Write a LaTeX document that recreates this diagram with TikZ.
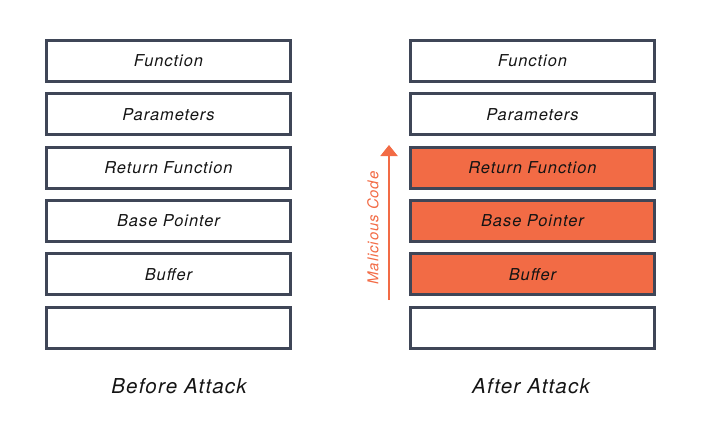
\documentclass[tikz,border=0pt]{standalone}
\usepackage{fontspec}
\setmainfont{TeX Gyre Heros}[LetterSpace=6]
\usetikzlibrary{arrows.meta,positioning}
\definecolor{frame}{HTML}{3F4657}
\definecolor{attack}{HTML}{F26B45}
\definecolor{ink}{HTML}{141414}

\begin{document}
\begin{tikzpicture}[x=0.75pt, y=-0.75pt,
  slot/.style={draw=frame, line width=2.25pt, minimum width=183pt, minimum height=30.75pt, inner sep=0pt, font=\itshape\fontsize{12.3}{14}\selectfont, text=ink},
  hit/.style={slot, fill=attack},
  caption/.style={font=\itshape\fontsize{15.4}{18}\selectfont, text=ink},
  arr/.style={-{Triangle[length=8.25pt, width=12.75pt]}, line width=1.5pt, draw=attack, fill=attack}
]
\useasboundingbox (0,0) rectangle (704,432);
% stack before the attack
\node[slot] (l1) at (168.5,61) {Function};
\node[slot, below=7pt of l1] (l2) {Parameters};
\node[slot, below=7pt of l2] (l3) {Return Function};
\node[slot, below=7pt of l3] (l4) {Base Pointer};
\node[slot, below=7pt of l4] (l5) {Buffer};
\node[slot, below=7pt of l5] (l6) {};
% stack after the attack
\node[slot, right=87.75pt of l1] (r1) {Function};
\node[slot, below=7pt of r1] (r2) {Parameters};
\node[hit, below=7pt of r2] (r3) {Return Function};
\node[hit, below=7pt of r3] (r4) {Base Pointer};
\node[hit, below=7pt of r4] (r5) {Buffer};
\node[slot, below=7pt of r5] (r6) {};
% overflow
\coordinate (tail) at (389,300);
\coordinate (head) at (389,145);
\draw[arr] (tail) -- (head);
\node[rotate=90, text=attack, font=\itshape\fontsize{11.2}{13}\selectfont] (mal) at (373,228) {Malicious Code};
\node[caption] (before) at (179,386.5) {Before Attack};
\node[caption] (after) at (531,386.5) {After Attack};
\end{tikzpicture}
\end{document}
